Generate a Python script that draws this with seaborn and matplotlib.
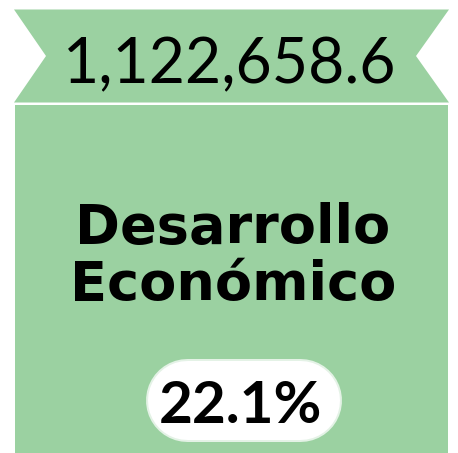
import matplotlib
matplotlib.use("Agg")
import matplotlib.pyplot as plt
import seaborn as sns
from matplotlib.patches import Polygon, Rectangle

# card content
total_value = [1122658.6]
category_lines = ["Desarrollo", "Económico"]
share_pct = [22.1]

green = "#9bd1a1"

sns.set_theme(style="white")
plt.rcParams['font.family'] = ['Lato', 'DejaVu Sans']

fig = plt.figure(figsize=(4.58, 4.53), dpi=100)
ax = fig.add_axes([0, 0, 1, 1])
ax.set_xlim(0, 458)
ax.set_ylim(453, 0)
ax.axis("off")

# ribbon banner
ribbon = Polygon([(14, 9.5), (449, 9.5), (416, 56), (449, 102.5),
                  (14, 102.5), (46, 56)], closed=True, facecolor=green, edgecolor="none")
ax.add_patch(ribbon)

# main box
ax.add_patch(Rectangle((15, 105), 433, 350, facecolor=green, edgecolor="none"))

# pill drawn as a thick line with round caps (80 px tall)
px = 72 / 100
ax.plot([187, 300], [400, 400], color="#e4f2e6", linewidth=83 * px,
        solid_capstyle="round")
ax.plot([187, 300], [400, 400], color="white", linewidth=79 * px,
        solid_capstyle="round")

ax.text(230, 83, f"{total_value[0]:,.1f}", ha="center", va="baseline",
        fontsize=45, fontweight="normal", color="black")
for line, base in zip(category_lines, [243, 300]):
    ax.text(233, base, line, ha="center", va="baseline", family="DejaVu Sans",
            fontsize=39, fontweight="bold", color="black")
ax.text(240, 423, f"{share_pct[0]}%", ha="center", va="baseline",
        fontsize=42, fontweight="bold", color="black")

fig.savefig("out.png", dpi=100)
